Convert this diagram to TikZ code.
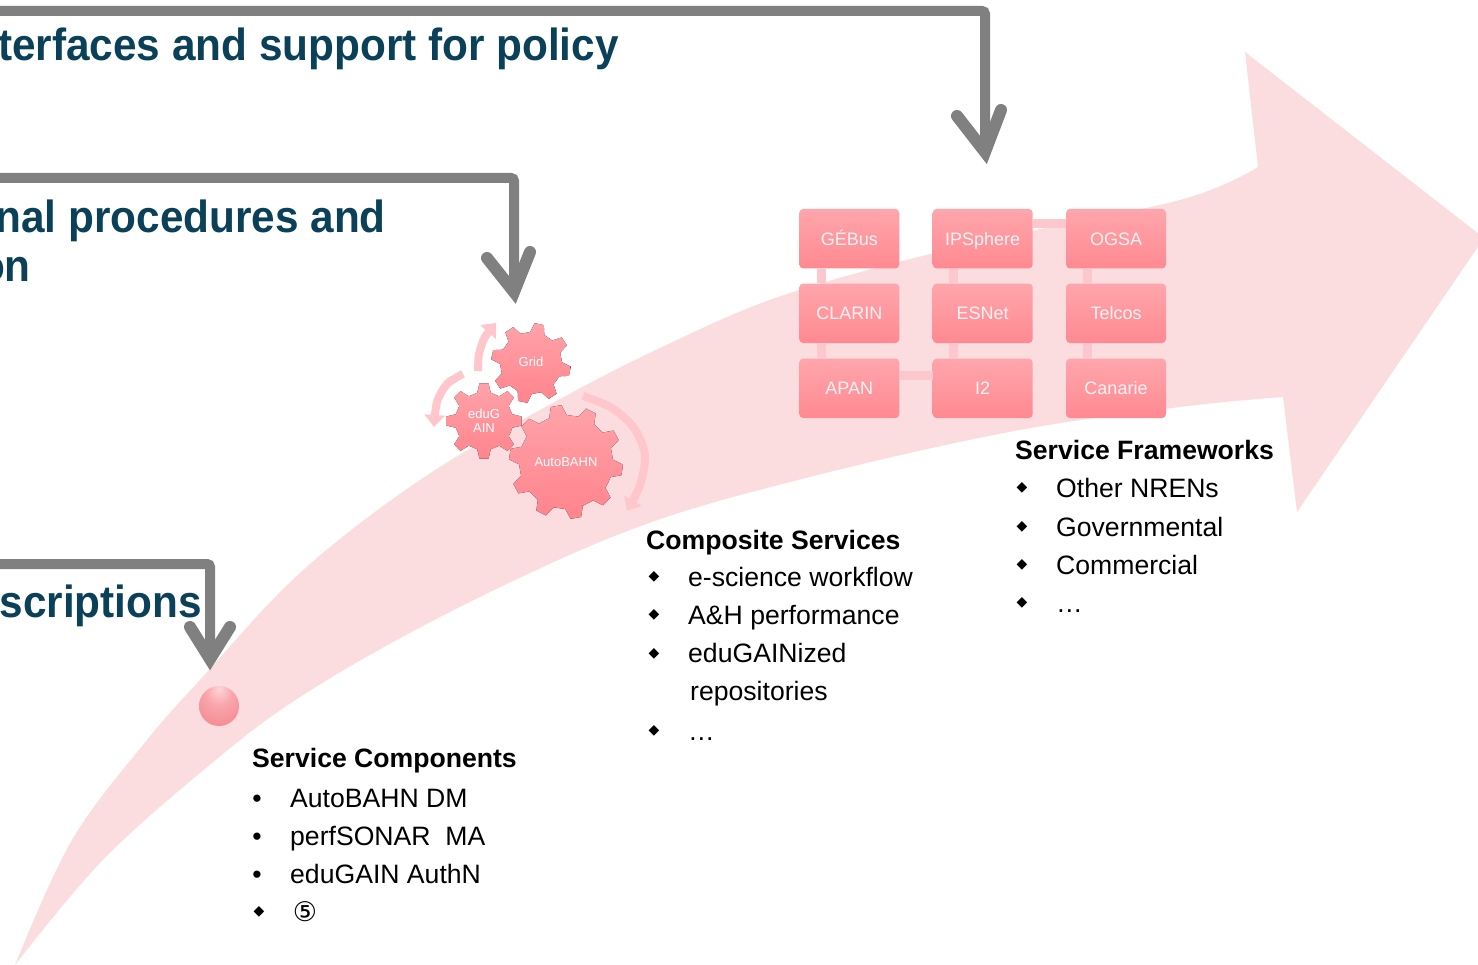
\documentclass[tikz,border=0pt]{standalone}
\usepackage{fontspec}
\setmainfont{Liberation Sans}
\newfontfamily\headfont[FakeStretch=0.94]{Liberation Sans}
\newfontfamily\symfont{DejaVu Sans}
\usetikzlibrary{arrows.meta,calc}

\definecolor{arrowpink}{RGB}{252,221,223}
\definecolor{conngray}{RGB}{128,128,128}
\definecolor{headteal}{RGB}{11,64,89}
\definecolor{boxtop}{RGB}{255,166,172}
\definecolor{boxbot}{RGB}{255,137,145}
\definecolor{barpink}{RGB}{252,200,205}
\definecolor{gearA}{RGB}{255,162,169}
\definecolor{gearB}{RGB}{255,132,141}
\definecolor{arcpink}{RGB}{255,198,203}
\definecolor{boxtext}{RGB}{255,243,244}
\definecolor{sphA}{RGB}{253,214,217}
\definecolor{sphB}{RGB}{249,166,172}
\definecolor{sphC}{RGB}{245,138,146}
\definecolor{sphD}{RGB}{218,100,110}
\definecolor{sphE}{RGB}{190,80,90}
\pgfdeclareradialshading{sphshade}{\pgfpoint{0bp}{22bp}}{color(0bp)=(sphA); color(16bp)=(sphB); color(38bp)=(sphC); color(56bp)=(sphD); color(75bp)=(sphE)}

\newcommand\drawgear[6]{% x, y, teeth, outer R, inner r, rotation
  \fill[gearfill, shift={(#1,#2)}] (#6+0.5*360/#3:#5)
    \foreach \i in {1,...,#3} {
      -- (#6+360/#3*\i-0.3*360/#3:#5)
      -- (#6+360/#3*\i-0.15*360/#3:#4)
      -- (#6+360/#3*\i+0.15*360/#3:#4)
      -- (#6+360/#3*\i+0.3*360/#3:#5)
    } -- cycle;}

\begin{document}
\begin{tikzpicture}[x=1pt,y=-1pt,
  conn/.style={draw=conngray, line width=10pt, rounded corners=3pt},
  chev/.style={draw=conngray, line width=12pt, line cap=round, line join=miter},
  heading/.style={font=\headfont\bfseries\fontsize{45}{50}\selectfont, text=headteal, inner sep=0, anchor=base east},
  fwbox/.style={rounded corners=4pt, top color=boxtop, bottom color=boxbot, minimum width=100pt, minimum height=59.5pt, inner sep=0, text=boxtext, font=\fontsize{18}{20}\selectfont, text height=13pt, text depth=0pt},
  bar/.style={draw=barpink, line width=9pt},
  gearfill/.style={top color=gearA, bottom color=gearB},
  geartext/.style={text=white, font=\fontsize{13}{14.5}\selectfont, align=center, inner sep=0},
  garc/.style={draw=arcpink, line width=8pt, -{Triangle[width=20pt,length=12pt]}},
  listhead/.style={font=\bfseries\fontsize{26.6}{30}\selectfont, anchor=base west, inner sep=0},
  listitem/.style={font=\fontsize{26.6}{30}\selectfont, anchor=base west, inner sep=0},
  dot/.style={font=\fontsize{26.6}{30}\selectfont, anchor=base, inner sep=0},
  dia/.style={font=\symfont\fontsize{14}{14}\selectfont, anchor=center, inner sep=0},
]
\useasboundingbox (0,0) rectangle (1478,965);
\clip (0,0) rectangle (1478,965);
\fill[white] (0,0) rectangle (1478,965);

% big pink arrow
\fill[arrowpink]
  plot[smooth, tension=0.6] coordinates {(15,965) (72,840) (147,740) (200,680) (300,573) (420,480) (540,410) (660,348) (790,293) (980,242) (1180,200) (1258,167)}
  -- (1245,52) -- (1484,238) -- (1297,512) -- (1283,397)
  -- plot[smooth, tension=0.6] coordinates {(1283,397) (1180,407) (1009,432) (798,480) (630,530) (450,612) (300,697) (200,773) (100,863) (15,965)}
  -- cycle;

% gray connectors
\coordinate (c1s) at (-20,11);
\coordinate (c1t) at (985,152);
\coordinate (c2s) at (-20,178);
\coordinate (c2t) at (514,292);
\coordinate (c3s) at (-20,564);
\coordinate (c3t) at (210,659);
\draw[conn] (c1s) -| (c1t);
\draw[conn] (c2s) -| (c2t);
\draw[conn] (c3s) -| (c3t);
\draw[chev] ($(c1t)+(-28,-36)$) -- (c1t) -- ($(c1t)+(16,-42)$);
\draw[chev] ($(c2t)+(-27,-34)$) -- (c2t) -- ($(c2t)+(16,-40)$);
\draw[chev] ($(c3t)+(-20,-32)$) -- (c3t) -- ($(c3t)+(20,-32)$);

% headings
\node[heading] (h1) at (619,61) {terfaces and support for policy};
\node[heading] (h2) at (386,233) {nal procedures and};
\node[heading] (h2b) at (31,282) {on};
\node[heading] (h3) at (202,617) {scriptions};

% service framework boxes
\node[fwbox] (gebus)    at (849.3,238.7) {GÉBus};
\node[fwbox] (ipsphere) at (982.7,238.7) {IPSphere};
\node[fwbox] (ogsa)     at (1116,238.7)  {OGSA};
\node[fwbox] (clarin)   at (849.3,313.3) {CLARIN};
\node[fwbox] (esnet)    at (982.7,313.3) {ESNet};
\node[fwbox] (telcos)   at (1116,313.3)  {Telcos};
\node[fwbox] (apan)     at (849.3,388.3) {APAN};
\node[fwbox] (itwo)     at (982.7,388.3) {I2};
\node[fwbox] (canarie)  at (1116,388.3)  {Canarie};
\draw[bar] ($(gebus.south)+(-28,0)$) -- ($(clarin.north)+(-28,0)$);
\draw[bar] ($(clarin.south)+(-28,0)$) -- ($(apan.north)+(-28,0)$);
\draw[bar] ($(ipsphere.south)+(-29,0)$) -- ($(esnet.north)+(-29,0)$);
\draw[bar] ($(esnet.south)+(-29,0)$) -- ($(itwo.north)+(-29,0)$);
\draw[bar] ($(ogsa.south)+(-29,0)$) -- ($(telcos.north)+(-29,0)$);
\draw[bar] ($(telcos.south)+(-29,0)$) -- ($(canarie.north)+(-29,0)$);
\draw[bar] ($(apan.east)+(0,-13)$) -- ($(itwo.west)+(0,-13)$);
\draw[bar] ($(ipsphere.east)+(0,-15)$) -- ($(ogsa.west)+(0,-15)$);

% gear rotation arrows
\draw[garc] plot[smooth] coordinates {(463,374) (447,384) (437,402) (434,427)};
\draw[garc] plot[smooth] coordinates {(478,371) (479,354) (485,337) (496,323)};
\draw[garc] plot[smooth] coordinates {(583,396) (612,408) (634,428) (645,455) (640,485) (627,511)};

% gears
\drawgear{531}{363}{8}{40}{31}{12}
\drawgear{484}{421}{8}{38}{29}{0}
\drawgear{566}{462}{10}{57}{47}{8}
\node[geartext] (grid) at (531,362) {Grid};
\node[geartext] (edugain) at (484,421) {eduG\\AIN};
\node[geartext] (autobahn) at (566,462) {AutoBAHN};

% sphere
\node[circle, shading=sphshade, minimum size=40pt, inner sep=0] (sphere) at (219,706) {};

% Service Components list
\node[listhead] (schead) at (252,767) {Service Components};
\node[dot] (scb1) at (257,807) {•};
\node[listitem] (sc1) at (290,807) {AutoBAHN DM};
\node[dot] (scb2) at (257,845) {•};
\node[listitem] (sc2) at (290,845) {perfSONAR\ \ MA};
\node[dot] (scb3) at (257,883.5) {•};
\node[listitem] (sc3) at (290,883.5) {eduGAIN AuthN};
\node[dia] (scb4) at (259,912) {◆};
\node[font=\symfont\fontsize{27}{28}\selectfont, inner sep=0] (sc4) at (305,911.5) {⑤};

% Composite Services list
\node[listhead] (cshead) at (646,549) {Composite Services};
\node[dia] (csb1) at (654,577) {◆};
\node[listitem] (cs1) at (688,586) {e-science workflow};
\node[dia] (csb2) at (654,615) {◆};
\node[listitem] (cs2) at (688,624) {A\&H performance};
\node[dia] (csb3) at (654,654) {◆};
\node[listitem] (cs3) at (688,662.5) {eduGAINized};
\node[listitem] (cs3b) at (690,700.5) {repositories};
\node[dia] (csb4) at (654,731) {◆};
\node[listitem] (cs4) at (688,740) {…};

% Service Frameworks list
\node[listhead] (sfhead) at (1015,459.5) {Service Frameworks};
\node[dia] (sfb1) at (1022,488) {◆};
\node[listitem] (sf1) at (1056,497) {Other NRENs};
\node[dia] (sfb2) at (1022,527) {◆};
\node[listitem] (sf2) at (1056,536) {Governmental};
\node[dia] (sfb3) at (1022,565) {◆};
\node[listitem] (sf3) at (1056,574) {Commercial};
\node[dia] (sfb4) at (1022,603) {◆};
\node[listitem] (sf4) at (1056,612) {…};
\end{tikzpicture}
\end{document}
